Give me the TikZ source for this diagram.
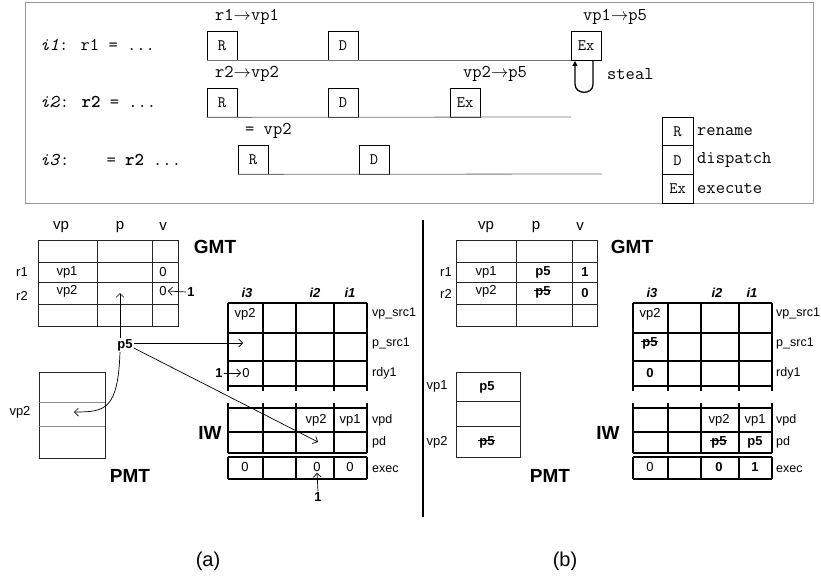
\documentclass[tikz,border=0pt]{standalone}
\usepackage{fontspec}
\setmainfont{Liberation Sans}
\usetikzlibrary{arrows.meta, positioning}
\newsavebox\strikebox
\newcommand{\xstrike}[1]{\sbox\strikebox{#1}\rlap{\kern-1.5pt\rule[0.32em]{\dimexpr\wd\strikebox+1.5pt\relax}{0.9pt}}\usebox\strikebox}
\newcommand{\maps}{\ensuremath{\rightarrow}}
\tikzset{
  stagebox/.style  = {draw, line width=0.8pt, minimum width=30pt, minimum height=29pt,
                      inner sep=0pt, font=\ttfamily\fontsize{16}{16}\selectfont},
  keybox/.style    = {stagebox, minimum width=31pt, minimum height=28.7pt},
  mono/.style      = {font=\ttfamily\fontsize{18}{18}\selectfont, inner sep=0pt},
  tline/.style     = {black!55, line width=0.8pt},
  framegrey/.style = {black!40, line width=1pt},
  cell/.style      = {font=\fontsize{13}{13}\selectfont, inner sep=1pt},
  bcell/.style     = {cell, font=\bfseries\fontsize{13}{13}\selectfont},
  rowlbl/.style    = {font=\fontsize{12.5}{12.5}\selectfont, inner sep=0pt, anchor=west},
  colhead/.style   = {font=\fontsize{15}{15}\selectfont, inner sep=0pt},
  ihead/.style     = {font=\bfseries\itshape\fontsize{13}{13}\selectfont, inner sep=0pt},
  tabtitle/.style  = {font=\bfseries\fontsize{19}{19}\selectfont, inner sep=0pt},
  caption/.style   = {font=\fontsize{20}{20}\selectfont, inner sep=0pt},
  gmtline/.style   = {black!85, line width=0.9pt},
  pmtthin/.style   = {black!45, line width=0.8pt},
  iwline/.style    = {black, line width=1.2pt},
  ptr/.style       = {-{Straight Barb[length=4pt,width=8pt]}, line width=0.7pt},
}

\begin{document}
\begin{tikzpicture}[x=1pt,y=-1pt]
  \useasboundingbox (0,0) rectangle (821,575);
  % pipeline timeline
  \draw[framegrey] (25,3) rectangle (813,203);
  \node[mono, anchor=west] (ins1) at (40,45) {\textit{i1}: r1 = ...};
  \node[mono, anchor=west] (ins2) at (40,102) {\textit{i2}: \textbf{r2} = ...};
  \node[mono, anchor=west] (ins3) at (40,160) {\textit{i3}:\ \ \ \ = \textbf{r2} ...};

  \node[stagebox] (rn1) at (222,45.5) {R};
  \node[stagebox] (dp1) at (343,45.5) {D};
  \node[stagebox] (ex1) at (586,45.5) {Ex};
  \draw[tline] (rn1.south west) -- (ex1.south west);
  \node[mono, anchor=west] (map1) at (215,17) {r1\maps vp1};
  \node[mono, anchor=west] (map1x) at (583,17) {vp1\maps p5};

  \node[stagebox] (rn2) at (222,102.5) {R};
  \node[stagebox] (dp2) at (343,102.5) {D};
  \node[stagebox] (ex2) at (465,102.5) {Ex};
  \coordinate (end2) at (571,117);
  \draw[tline] (rn2.south west) -- (end2);
  \node[mono, anchor=west] (map2) at (215,74) {r2\maps vp2};
  \node[mono, anchor=west] (map2x) at (463,74) {vp2\maps p5};

  \node[stagebox] (rn3) at (253,159.5) {R};
  \node[stagebox] (dp3) at (374,159.5) {D};
  \coordinate (end3) at (602,174);
  \draw[tline] (rn3.south west) -- (end3);
  \node[mono, anchor=west] (map3) at (245,131) {= vp2};

  % steal loop
  \coordinate (stealtop) at (575,61);
  \draw[line width=1.3pt, -{Triangle[length=5pt,width=5pt]}]
    ([xshift=7pt]ex1.south) -- ++(0,24) .. controls (593,95) and (575,95) .. (575,84) -- (stealtop);
  \node[mono, anchor=west] (stealtxt) at (607,74) {steal};

  % legend
  \node[keybox] (keyR) at (677.5,131.5) {R};
  \node[keybox] (keyD) at (677.5,160.2) {D};
  \node[keybox] (keyEx) at (677.5,188.8) {Ex};
  \node[mono, anchor=west] (keyRt) at (697,131.5) {rename};
  \node[mono, anchor=west] (keyDt) at (697,160.2) {dispatch};
  \node[mono, anchor=west] (keyExt) at (697,188.8) {execute};

  % separator
  \draw[line width=1.3pt] (423,220) -- (423,517);

  % GMT (a)
  \draw[gmtline] (38,240) rectangle (178,326);
  \foreach \c in {97,152} \draw[gmtline] (\c,240) -- (\c,326);
  \foreach \r in {262,282,304} \draw[gmtline] (38,\r) -- (178,\r);
  \node[colhead] (hvpA) at (61,227) {vp};
  \node[colhead] (hpA) at (120,227) {p};
  \node[colhead] (hvA) at (163,227) {v};
  \node[tabtitle] (gmtA) at (215,247) {GMT};
  \node[cell] (r1A) at (22,272) {r1};
  \node[cell] (r2A) at (22,296) {r2};
  \node[cell] (vp1A) at (67,272) {vp1};
  \node[cell] (vp2A) at (67,291) {vp2};
  \node[cell] (v1A) at (163,272) {0};
  \node[cell] (v2A) at (163,291) {0};
  \node[bcell] (setA) at (191,292) {1};
  \draw[ptr] (setA.west) -- (v2A.east);

  % PMT (a)
  \draw[gmtline] (39,372) rectangle (105,458);
  \foreach \r in {402,426} \draw[pmtthin] (39,\r) -- (105,\r);
  \node[cell] (pvp2A) at (20,412) {vp2};
  \node[tabtitle] (pmtA) at (130,476) {PMT};

  % p5 broadcast
  \node[bcell] (p5A) at (125,345) {p5};
  \coordinate (gmtp) at (120,293);
  \coordinate (psrcA) at (243,343);
  \coordinate (pdA) at (318,442);
  \coordinate (pmtA2) at (74,412);
  \draw[ptr] (p5A.north -| gmtp) -- (gmtp);
  \draw[ptr] ([yshift=2pt]p5A.east) -- (psrcA);
  \draw[ptr] ([yshift=-3pt]p5A.east) -- (pdA);
  \draw[ptr] (p5A.south -| gmtp) .. controls (118,410) and (105,412) .. (pmtA2);

  % IW frames, both panels
  \foreach \dx in {0,405} {
    \foreach \c in {228,263,296,334,367} {
      \draw[iwline] (\c+\dx,303) -- (\c+\dx,391);
      \draw[iwline] (\c+\dx,403) -- (\c+\dx,453);
      \draw[iwline] (\c+\dx,457) -- (\c+\dx,479);
    }
    \foreach \r in {303,333,361,386,408,432,453,457,479}
      \draw[iwline] (228+\dx,\r) -- (367+\dx,\r);
  }
  \foreach \txt/\y [count=\k] in {vp\_src1/313, p\_src1/343, rdy1/373, vpd/420, pd/442, exec/469} {
    \node[rowlbl] (rowA\k) at (372,\y) {\txt};
    \node[rowlbl] (rowB\k) at (776,\y) {\txt};
  }

  % IW (a)
  \node[ihead] (i3A) at (247,293) {i3};
  \node[ihead] (i2A) at (315,293) {i2};
  \node[ihead] (i1A) at (350,293) {i1};
  \node[tabtitle] (iwA) at (210,433) {IW};
  \node[cell] (srcA) at (245,314) {vp2};
  \node[cell] (rdyA) at (246,373) {0};
  \node[bcell] (wakeA) at (219,373) {1};
  \draw[ptr] (wakeA.east) -- (rdyA.west);
  \node[cell] (vpdA2) at (316,420) {vp2};
  \node[cell] (vpdA1) at (350,420) {vp1};
  \node[cell] (exA3) at (245,467) {0};
  \node[cell] (exA2) at (317,467) {0};
  \node[cell] (exA1) at (350,467) {0};
  \node[bcell] (doneA) at (318,497) {1};
  \draw[ptr] (doneA.north) -- (exA2.south);
  \node[caption] (capA) at (208,561) {(a)};

  % GMT (b)
  \draw[gmtline] (456,240) rectangle (597,326);
  \foreach \c in {516,572} \draw[gmtline] (\c,240) -- (\c,326);
  \foreach \r in {262,282,304} \draw[gmtline] (456,\r) -- (597,\r);
  \node[colhead] (hvpB) at (486,227) {vp};
  \node[colhead] (hpB) at (536,227) {p};
  \node[colhead] (hvB) at (580,227) {v};
  \node[tabtitle] (gmtB) at (632,247) {GMT};
  \node[cell] (r1B) at (446,272) {r1};
  \node[cell] (r2B) at (446,294) {r2};
  \node[cell] (vp1B) at (486,272) {vp1};
  \node[cell] (vp2B) at (486,291) {vp2};
  \node[bcell] (p1B) at (543,272) {p5};
  \node[bcell] (p2B) at (543,292) {\xstrike{p5}};
  \node[bcell] (v1B) at (585,272) {1};
  \node[bcell] (v2B) at (585,293) {0};

  % PMT (b)
  \draw[gmtline] (456,372) rectangle (520,457);
  \foreach \r in {401,426} \draw[gmtline] (456,\r) -- (520,\r);
  \node[cell] (pvp1B) at (437,386) {vp1};
  \node[cell] (pvp2B) at (437,442) {vp2};
  \node[bcell] (pp1B) at (487,387) {p5};
  \node[bcell] (pp2B) at (487,442) {\xstrike{p5}};
  \node[tabtitle] (pmtB) at (550,476) {PMT};

  % IW (b)
  \node[ihead] (i3B) at (652,293) {i3};
  \node[ihead] (i2B) at (717,293) {i2};
  \node[ihead] (i1B) at (752,293) {i1};
  \node[tabtitle] (iwB) at (608,433) {IW};
  \node[cell] (srcB) at (650,314) {vp2};
  \node[bcell] (psB) at (650,343) {\xstrike{p5}};
  \node[bcell] (rdyB) at (650,373) {0};
  \node[cell] (vpdB2) at (719,420) {vp2};
  \node[cell] (vpdB1) at (755,420) {vp1};
  \node[bcell] (pdB2) at (719,442) {\xstrike{p5}};
  \node[bcell] (pdB1) at (755,442) {p5};
  \node[cell] (exB3) at (650,467) {0};
  \node[bcell] (exB2) at (719,467) {0};
  \node[bcell] (exB1) at (755,467) {1};
  \node[caption] (capB) at (565,561) {(b)};
\end{tikzpicture}
\end{document}
